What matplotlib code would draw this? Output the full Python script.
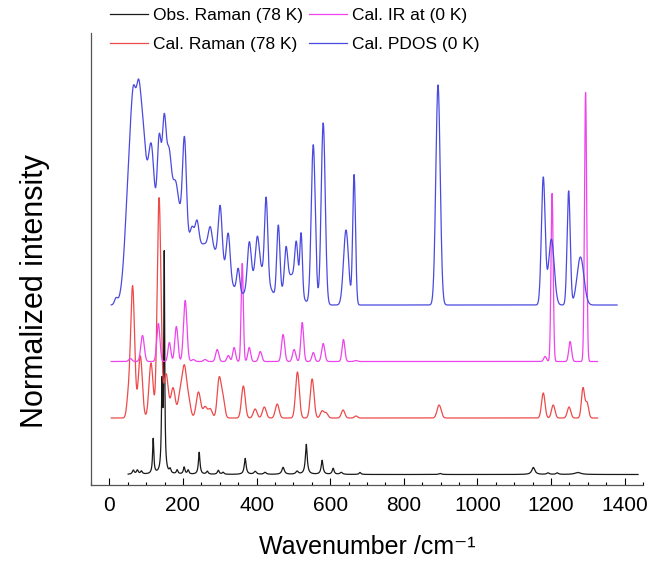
import numpy as np
import matplotlib.pyplot as plt

plt.rcParams['font.family'] = ['Liberation Sans', 'DejaVu Sans']

# --- peak lists: position (cm-1), height, fwhm ---
obs_range = (51, 1437)
obs_pos = [65, 76, 87, 119, 143, 149, 165, 184, 203, 214, 244, 266, 296, 309, 369, 396, 423,
           472, 510, 535, 578, 608, 630, 681, 899, 1152, 1192, 1217, 1273]
obs_amp = [4, 4, 3, 35, 85, 215, 4, 4, 7, 4, 22, 3, 4, 2, 16, 3, 2,
           7, 3, 30, 14, 6, 2, 2, 1, 7, 1.5, 1.5, 2]
obs_fwhm = [6, 6, 6, 4, 4, 3, 5, 5, 5, 5, 5, 6, 6, 6, 6, 8, 8,
            8, 8, 6, 6, 6, 8, 6, 8, 10, 8, 8, 20]

raman_range = (5, 1327)
raman_pos = [51, 63, 84, 113, 135, 154, 173, 193, 204, 215, 242, 260, 274, 298, 308, 364, 396,
             421, 456, 511, 551, 578, 589, 635, 670, 896, 1179, 1206, 1249, 1287, 1298]
raman_amp = [18, 132, 62, 55, 220, 44, 30, 26, 46, 18, 26, 11, 9, 38, 20, 32, 9,
             11, 14, 46, 39, 7, 5, 8, 2, 13, 25, 13, 11, 30, 15]
raman_fwhm = [10, 13, 13, 13, 12, 14, 14, 14, 13, 13, 14, 13, 13, 12, 12, 12, 12,
              12, 12, 12, 12, 11, 11, 11, 10, 13, 11, 11, 11, 10, 10]

ir_range = (5, 1327)
ir_pos = [57, 90, 133, 163, 182, 206, 228, 260, 293, 323, 339, 361, 380, 410, 472, 502, 524,
          554, 581, 636, 670, 1184, 1203, 1252, 1294]
ir_amp = [3, 26, 38, 19, 35, 61, 2, 2, 12, 6, 14, 98, 14, 10, 27, 12, 39,
          9, 18, 22, 1, 5, 168, 20, 269]
ir_fwhm = [10, 11, 10, 9, 10, 11, 10, 10, 10, 9, 9, 7, 9, 10, 10, 10, 9,
           9, 10, 9, 10, 9, 7, 9, 7]

pdos_range = (5, 1380)
pdos_pos = [18, 60, 87, 65, 79, 160, 265, 410, 495,
            114, 135, 149, 162, 181, 204, 225, 238, 274, 301, 323,
            350, 380, 402, 426, 459, 480, 508, 521, 554, 581, 643, 665,
            893, 1179, 1201, 1248, 1280]
pdos_amp = [6, 165, 165, 18, 18, 120, 60, 35, 30,
            90, 74, 72, 30, 12, 91, 17, 25, 19, 55, 44,
            24, 45, 35, 80, 71, 36, 40, 60, 160, 182, 75, 130,
            220, 127, 66, 114, 48]
pdos_fwhm = [10, 32, 32, 11, 11, 80, 110, 55, 45,
             18, 12, 12, 12, 12, 12, 12, 12, 12, 12, 12,
             10, 12, 12, 10, 10, 10, 10, 8, 13, 13, 16, 9,
             14, 12, 18, 10, 22]

labels = ['Obs. Raman (78 K)', 'Cal. Raman (78 K)', 'Cal. IR at (0 K)', 'Cal. PDOS (0 K)']
colors = ['#1a1a1a', '#ee4a4a', '#ee44ee', '#4a4ae0']
offsets = [0, 56.5, 113, 169.5]


def gauss(x, pos, amp, fwhm):
    y = np.zeros_like(x)
    for p, a, w in zip(pos, amp, fwhm):
        s = w / 2.355
        y += a * np.exp(-0.5 * ((x - p) / s) ** 2)
    return y


def lorentz(x, pos, amp, fwhm):
    y = np.zeros_like(x)
    for p, a, w in zip(pos, amp, fwhm):
        g = w / 2.0
        y += a * g ** 2 / ((x - p) ** 2 + g ** 2)
    return y


fig = plt.figure(figsize=(6.65, 5.69), dpi=100)
ax = fig.add_axes([91 / 665, 84 / 569, 552 / 665, 452 / 569])

series = [
    (obs_range, lorentz, obs_pos, obs_amp, obs_fwhm),
    (raman_range, gauss, raman_pos, raman_amp, raman_fwhm),
    (ir_range, gauss, ir_pos, ir_amp, ir_fwhm),
    (pdos_range, gauss, pdos_pos, pdos_amp, pdos_fwhm),
]

for i, (rng, fn, pos, amp, fw) in enumerate(series):
    x = np.arange(rng[0], rng[1], 0.5)
    y = fn(x, pos, amp, fw) + offsets[i]
    ax.plot(x, y, color=colors[i], lw=0.9, label=labels[i])

ax.set_xlim(-50, 1450)
ax.set_ylim(-10.5, 441.5)
ax.set_xticks(np.arange(0, 1401, 200))
ax.set_xticks(np.arange(-50, 1451, 50), minor=True)
ax.set_yticks([])
ax.tick_params(axis='x', which='major', direction='in', length=5, width=0.8,
               labelsize=15, pad=8)
ax.tick_params(axis='x', which='minor', direction='in', length=2.5, width=0.8)
for side in ['top', 'right']:
    ax.spines[side].set_visible(False)
for side in ['left', 'bottom']:
    ax.spines[side].set_color('#555555')
    ax.spines[side].set_linewidth(0.9)

ax.set_xlabel('Wavenumber /cm\u207b\u00b9', fontsize=18, labelpad=14)
ax.set_ylabel('Normalized intensity', fontsize=22)
ax.yaxis.set_label_coords(-0.074, 0.43)

fig.legend(loc='upper left', bbox_to_anchor=(110 / 665, 1 - 8 / 569), ncol=2,
           frameon=False, fontsize=12.5, handlelength=2.2, handletextpad=0.3,
           columnspacing=0.3, labelspacing=0.8, borderpad=0, borderaxespad=0)

fig.savefig('out.png', dpi=100)
